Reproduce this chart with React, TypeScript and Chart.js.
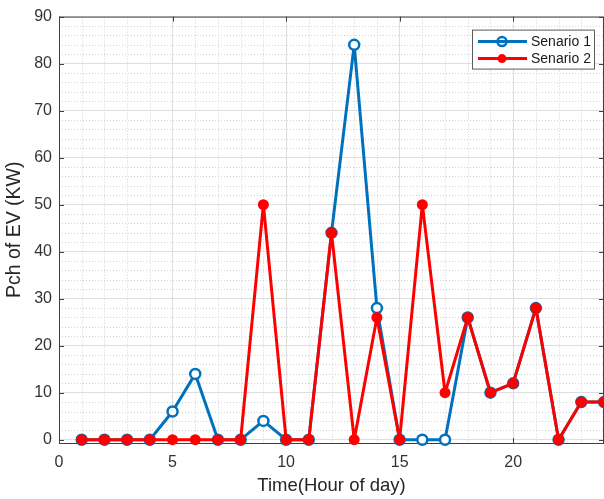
import React, { useEffect, useRef } from 'react';
import { Chart, registerables } from 'chart.js';

Chart.register(...registerables);

const hours = [1, 2, 3, 4, 5, 6, 7, 8, 9, 10, 11, 12, 13, 14, 15, 16, 17, 18, 19, 20, 21, 22, 23, 24];
const senario1 = [0, 0, 0, 0, 6, 14, 0, 0, 4, 0, 0, 44, 84, 28, 0, 0, 0, 26, 10, 12, 28, 0, 8, 8];
const senario2 = [0, 0, 0, 0, 0, 0, 0, 0, 50, 0, 0, 44, 0, 26, 0, 50, 10, 26, 10, 12, 28, 0, 8, 8];
const seriesLabels = ['Senario 1', 'Senario 2'];
const xTicks = [0, 5, 10, 15, 20];
const yTicks = [0, 10, 20, 30, 40, 50, 60, 70, 80, 90];
const xTitle = 'Time(Hour of day)';
const yTitle = 'Pch of EV (KW)';

const FONT = "'Liberation Sans', Arial, Helvetica, sans-serif";
const BLUE = '#0072BD';
const RED = '#FF0000';
const AXIS = '#404040';

const framePlugin = {
  id: 'frame',
  beforeDatasetsDraw(chart: any) {
    const { ctx, chartArea: a, scales } = chart;
    const xs = scales.x;
    const ys = scales.y;
    ctx.save();
    ctx.strokeStyle = '#d2d2d2';
    ctx.lineWidth = 1;
    ctx.setLineDash([1, 2]);
    for (let v = Math.ceil(xs.min); v <= xs.max; v += 1) {
      if (v % 5 === 0) continue;
      const px = Math.round(xs.getPixelForValue(v)) + 0.5;
      ctx.beginPath();
      ctx.moveTo(px, a.top);
      ctx.lineTo(px, a.bottom);
      ctx.stroke();
    }
    for (let v = 2; v <= ys.max; v += 2) {
      if (v % 10 === 0) continue;
      const py = Math.round(ys.getPixelForValue(v)) + 0.5;
      ctx.beginPath();
      ctx.moveTo(a.left, py);
      ctx.lineTo(a.right, py);
      ctx.stroke();
    }
    ctx.setLineDash([]);
    ctx.strokeStyle = AXIS;
    ctx.lineWidth = 1;
    ctx.strokeRect(a.left + 0.5, a.top + 0.5, a.right - a.left - 1, a.bottom - a.top);
    ctx.beginPath();
    xTicks.forEach((v) => {
      const px = Math.round(xs.getPixelForValue(v)) + 0.5;
      ctx.moveTo(px, a.bottom);
      ctx.lineTo(px, a.bottom - 5);
      ctx.moveTo(px, a.top);
      ctx.lineTo(px, a.top + 5);
    });
    yTicks.forEach((v) => {
      const py = Math.round(ys.getPixelForValue(v)) + 0.5;
      ctx.moveTo(a.left, py);
      ctx.lineTo(a.left + 5, py);
      ctx.moveTo(a.right, py);
      ctx.lineTo(a.right - 5, py);
    });
    ctx.stroke();
    ctx.restore();
  },
  afterDraw(chart: any) {
    const { ctx, chartArea: a } = chart;
    const w = 122;
    const h = 39;
    const x0 = a.right - 10 - w;
    const y0 = a.top + 13;
    ctx.save();
    ctx.fillStyle = '#ffffff';
    ctx.fillRect(x0, y0, w, h);
    ctx.strokeStyle = '#5a5a5a';
    ctx.lineWidth = 1;
    ctx.strokeRect(x0 + 0.5, y0 + 0.5, w, h);
    const items = [
      { label: seriesLabels[0], color: BLUE, filled: false },
      { label: seriesLabels[1], color: RED, filled: true },
    ];
    items.forEach((it, i) => {
      const cy = y0 + 12 + i * 17;
      ctx.strokeStyle = it.color;
      ctx.lineWidth = 3;
      ctx.beginPath();
      ctx.moveTo(x0 + 6, cy);
      ctx.lineTo(x0 + 55, cy);
      ctx.stroke();
      ctx.beginPath();
      ctx.arc(x0 + 30, cy, 4.5, 0, Math.PI * 2);
      if (it.filled) {
        ctx.fillStyle = it.color;
        ctx.fill();
      } else {
        ctx.lineWidth = 2.5;
        ctx.stroke();
      }
      ctx.fillStyle = '#1a1a1a';
      ctx.font = `14px ${FONT}`;
      ctx.textAlign = 'left';
      ctx.textBaseline = 'middle';
      ctx.fillText(it.label, x0 + 59, cy + 1);
    });
    ctx.restore();
  },
};

export default function App() {
  const ref = useRef<HTMLCanvasElement | null>(null);
  useEffect(() => {
    if (!ref.current) return;
    const chart = new Chart(ref.current, {
      type: 'line',
      data: {
        datasets: [
          {
            label: seriesLabels[0],
            data: hours.map((h, i) => ({ x: h, y: senario1[i] })),
            borderColor: BLUE,
            backgroundColor: BLUE,
            borderWidth: 3,
            borderJoinStyle: 'round',
            pointRadius: 5,
            pointBorderWidth: 2.5,
            pointBackgroundColor: '#ffffff',
            pointBorderColor: BLUE,
            tension: 0,
            order: 2,
            clip: 8,
          },
          {
            label: seriesLabels[1],
            data: hours.map((h, i) => ({ x: h, y: senario2[i] })),
            borderColor: RED,
            backgroundColor: RED,
            borderWidth: 3,
            borderJoinStyle: 'round',
            pointRadius: 5.5,
            pointBorderWidth: 0,
            pointBackgroundColor: RED,
            pointBorderColor: RED,
            tension: 0,
            order: 1,
            clip: 8,
          },
        ],
      },
      options: {
        animation: false,
        responsive: false,
        maintainAspectRatio: false,
        layout: { autoPadding: false, padding: { top: 14, right: 0, left: 0, bottom: 0 } },
        plugins: { legend: { display: false }, tooltip: { enabled: false } },
        scales: {
          x: {
            type: 'linear',
            min: 0,
            max: 24,
            afterBuildTicks: (s: any) => {
              s.ticks = xTicks.map((v) => ({ value: v }));
            },
            afterFit: (s: any) => {
              s.height = 56;
            },
            grid: { color: '#dedede', drawTicks: false, lineWidth: 1 },
            border: { display: false },
            ticks: {
              font: { family: FONT, size: 16 },
              color: '#333333',
              padding: 10,
              maxRotation: 0,
            },
            title: {
              display: true,
              text: xTitle,
              font: { family: FONT, size: 18.5 },
              color: '#262626',
              padding: { top: 0, bottom: 2 },
            },
          },
          y: {
            type: 'linear',
            min: -0.7,
            max: 90,
            afterBuildTicks: (s: any) => {
              s.ticks = yTicks.map((v) => ({ value: v }));
            },
            afterFit: (s: any) => {
              s.width = 59;
            },
            grid: { color: '#dedede', drawTicks: false, lineWidth: 1 },
            border: { display: false },
            ticks: {
              font: { family: FONT, size: 16 },
              color: '#333333',
              padding: 7,
            },
            title: {
              display: true,
              text: yTitle,
              font: { family: FONT, size: 19.5 },
              color: '#262626',
              padding: { top: 3, bottom: 0 },
            },
          },
        },
      },
      plugins: [framePlugin],
    } as any);
    return () => chart.destroy();
  }, []);
  return (
    <div style={{ position: 'fixed', left: 0, top: 0, width: 604, height: 499, background: '#fff' }}>
      <canvas ref={ref} width={604} height={499} style={{ width: 604, height: 499, display: 'block' }} />
    </div>
  );
}
